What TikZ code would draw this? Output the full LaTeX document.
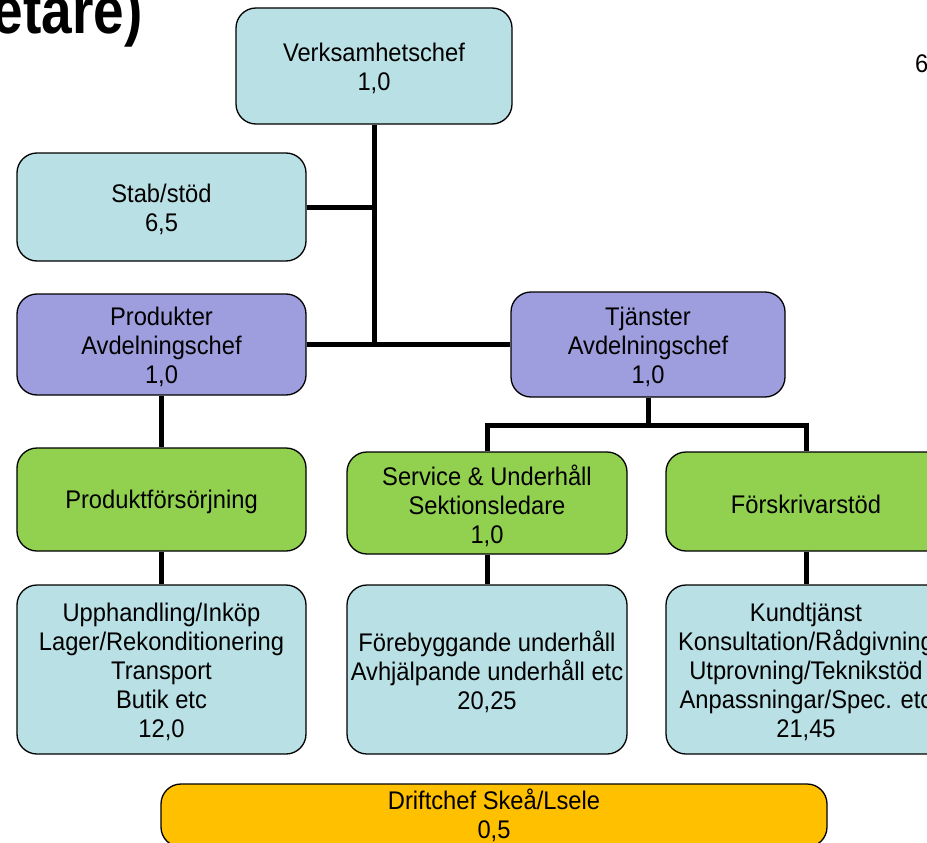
\documentclass[tikz,border=0pt]{standalone}
\usepackage{fontspec}
\setmainfont{Liberation Sans}
\newfontfamily\boxfont{Liberation Sans}[FakeStretch=0.93]
\definecolor{lblue}{HTML}{B9E0E4}
\definecolor{lpurple}{HTML}{9E9EDE}
\definecolor{lgreen}{HTML}{92D050}
\definecolor{lorange}{HTML}{FFC000}
\tikzset{
  box/.style={draw=black, line width=1.3pt, rounded corners=20pt, inner sep=0pt},
  txt/.style={align=center, inner sep=0pt, yshift=-2.5pt, font=\boxfont\fontsize{25.5}{29}\selectfont},
  conn/.style={draw=black, line width=5pt}
}
\begin{document}
\begin{tikzpicture}[x=1pt,y=-1pt]
\useasboundingbox (0,0) rectangle (927,843);
\clip (0,0) rectangle (927,843);
\node[box, fill=lblue, minimum width=276pt, minimum height=116pt, label={[txt]center:{Verksamhetschef\\1,0}}] (vc) at (374,66) {};
\node[box, fill=lblue, minimum width=289pt, minimum height=108pt, label={[txt]center:{Stab/stöd\\6,5}}] (st) at (161.5,207) {};
\node[box, fill=lpurple, minimum width=289pt, minimum height=101pt, label={[txt]center:{Produkter\\Avdelningschef\\1,0}}] (pk) at (161.5,344.5) {};
\node[box, fill=lpurple, minimum width=274pt, minimum height=105pt, label={[txt]center:{Tjänster\\Avdelningschef\\1,0}}] (tj) at (648,344.5) {};
\node[box, fill=lgreen, minimum width=289pt, minimum height=103pt, label={[txt]center:{Produktförsörjning}}] (pf) at (161.5,499.5) {};
\node[box, fill=lgreen, minimum width=280pt, minimum height=102pt, label={[txt]center:{Service \& Underhåll\\Sektionsledare\\1,0}}] (sv) at (487,503) {};
\node[box, fill=lgreen, minimum width=280pt, minimum height=99pt, label={[txt]center:{Förskrivarstöd}}] (fs) at (806,501.5) {};
\node[box, fill=lblue, minimum width=289pt, minimum height=169pt, label={[txt]center:{Upphandling/Inköp\\Lager/Rekonditionering\\Transport\\Butik etc\\12,0}}] (up) at (161.5,669.5) {};
\node[box, fill=lblue, minimum width=280pt, minimum height=169pt, label={[txt]center:{Förebyggande underhåll\\Avhjälpande underhåll etc\\20,25}}] (fb) at (487,669.5) {};
\node[box, fill=lblue, minimum width=280pt, minimum height=169pt, label={[txt]center:{Kundtjänst\\Konsultation/Rådgivning\\Utprovning/Teknikstöd\\Anpassningar/Spec. etc\\21,45}}] (kt) at (806,669.5) {};
\node[box, fill=lorange, minimum width=666pt, minimum height=63pt, label={[txt, yshift=2.5pt]center:{Driftchef Skeå/Lsele\\0,5}}] (dc) at (494,815.5) {};
% connector coordinates
\coordinate (j1) at (374,344);
\coordinate (t1) at (648,425);
\coordinate (tl) at (487,425);
\coordinate (tr) at (806,425);
\draw[conn] (vc.south) -- (j1);
\draw[conn] (st.east) -- (st.east -| vc.south);
\draw[conn] (pk.east |- j1) -- (tj.west |- j1);
\draw[conn] (pk.south) -- (pf.north);
\draw[conn] (pf.south) -- (up.north);
\draw[conn] (tj.south) -- (t1);
\draw[conn] (tl) -- (tr);
\draw[conn] ([yshift=2.5pt]tl) -- (sv.north);
\draw[conn] ([yshift=2.5pt]tr) -- (fs.north);
\draw[conn] (sv.south) -- (fb.north);
\draw[conn] (fs.south) -- (kt.north);
% cut-off texts
\node[font=\fontsize{55}{60}\selectfont\bfseries, anchor=base east, inner sep=0pt] (ttl) at (143,34) {\scalebox{1}[1.2]{etare)}};
\node[font=\boxfont\fontsize{25.5}{29}\selectfont, anchor=base west, inner sep=0pt] (six) at (915,73) {6};
\end{tikzpicture}
\end{document}
